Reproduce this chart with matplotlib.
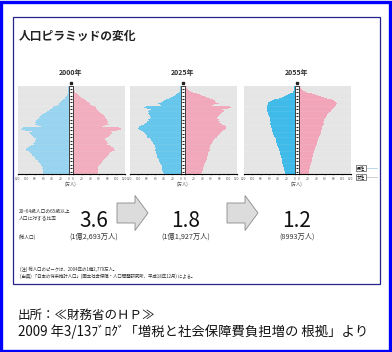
import numpy as np
import matplotlib.pyplot as plt
from matplotlib.patches import Rectangle, FancyArrow

plt.rcParams['font.family'] = ['Noto Sans CJK JP', 'DejaVu Sans']

W, H = 392, 352
ages = np.arange(0, 101)

# population by single year of age (万人)
male_2000 = [60, 61, 61, 61, 60, 61, 62, 61, 62, 64,
             65, 66, 68, 70, 71, 73, 77, 79, 79, 80,
             82, 85, 87, 88, 90, 94, 99, 101, 100, 100,
             96, 92, 88, 86, 82, 84, 79, 80, 78, 76,
             76, 78, 81, 84, 86, 88, 91, 92, 92, 87,
             102, 111, 109, 106, 65, 72, 84, 80, 77, 79,
             77, 76, 75, 72, 70, 69, 68, 65, 62, 58,
             53, 52, 50, 46, 43, 40, 38, 37, 35, 27,
             23, 22, 20, 18, 16, 14, 12, 10, 8, 7,
             5, 4, 3, 3, 2, 1, 1, 1, 1, 1, 1]
female_2000 = [57, 58, 58, 58, 57, 58, 59, 58, 59, 61,
               62, 63, 65, 67, 68, 70, 73, 75, 75, 76,
               78, 81, 83, 84, 86, 90, 95, 97, 96, 96,
               93, 89, 86, 84, 80, 82, 78, 79, 77, 75,
               75, 77, 80, 83, 85, 87, 90, 91, 92, 88,
               103, 112, 111, 108, 67, 75, 87, 83, 80, 82,
               81, 80, 79, 77, 76, 75, 74, 72, 69, 66,
               63, 62, 61, 58, 56, 54, 53, 52, 50, 44,
               40, 39, 36, 33, 31, 28, 25, 22, 19, 16,
               14, 11, 9, 7, 5, 4, 3, 2, 2, 1, 1]
male_2025 = [40, 41, 42, 42, 43, 43, 44, 44, 45, 45,
             46, 47, 48, 49, 50, 51, 52, 53, 54, 55,
             55, 56, 56, 57, 57, 59, 60, 60, 60, 59,
             60, 61, 60, 61, 63, 64, 65, 67, 69, 70,
             72, 76, 78, 78, 79, 81, 84, 86, 87, 89,
             92, 97, 99, 98, 97, 93, 89, 85, 83, 79,
             80, 75, 76, 73, 71, 70, 71, 73, 75, 76,
             75, 77, 77, 75, 70, 80, 85, 81, 77, 46,
             48, 53, 47, 42, 40, 35, 31, 27, 22, 18,
             14, 11, 8, 6, 4, 3, 2, 1, 1, 1, 1]
female_2025 = [38, 39, 40, 40, 41, 41, 42, 42, 43, 43,
               44, 45, 46, 47, 48, 49, 50, 50, 51, 52,
               52, 53, 53, 54, 54, 56, 57, 57, 57, 56,
               57, 58, 58, 59, 61, 62, 63, 65, 66, 67,
               69, 73, 75, 75, 76, 78, 81, 83, 84, 86,
               89, 94, 96, 95, 95, 92, 88, 85, 83, 79,
               81, 77, 78, 76, 74, 74, 76, 79, 82, 84,
               86, 89, 90, 90, 86, 99, 107, 105, 101, 62,
               68, 78, 73, 69, 69, 65, 61, 57, 51, 46,
               40, 34, 28, 23, 18, 14, 10, 7, 5, 3, 4]
male_2055 = [23, 23, 24, 24, 25, 25, 26, 26, 27, 27,
             28, 28, 29, 29, 30, 30, 31, 31, 32, 32,
             33, 33, 34, 34, 35, 35, 36, 36, 37, 37,
             39, 40, 41, 41, 42, 42, 43, 43, 44, 44,
             45, 46, 47, 48, 49, 50, 51, 52, 53, 53,
             53, 54, 54, 55, 55, 56, 57, 57, 57, 56,
             58, 58, 57, 57, 59, 59, 60, 61, 62, 62,
             63, 65, 66, 65, 65, 65, 66, 66, 65, 64,
             62, 63, 62, 58, 54, 48, 42, 36, 31, 26,
             20, 15, 11, 8, 5, 4, 3, 2, 1, 1, 1]
female_2055 = [22, 22, 23, 23, 24, 24, 25, 25, 26, 26,
               27, 27, 28, 28, 29, 29, 30, 30, 31, 31,
               32, 32, 33, 33, 34, 34, 35, 35, 36, 36,
               38, 39, 40, 40, 41, 41, 42, 42, 43, 43,
               44, 45, 46, 47, 48, 49, 50, 50, 51, 52,
               52, 53, 53, 54, 54, 56, 57, 57, 57, 56,
               57, 58, 58, 59, 61, 62, 63, 65, 66, 67,
               69, 73, 75, 75, 76, 78, 81, 83, 84, 85,
               86, 88, 86, 84, 82, 76, 70, 64, 57, 50,
               43, 36, 29, 23, 18, 13, 9, 6, 4, 3, 5]

years = ['2000年', '2025年', '2055年']
ratios = ['3.6', '1.8', '1.2']
totals = ['(1億2,693万人)', '(1億1,927万人)', '(8993万人)']
ticks = [0, 20, 40, 60, 80, 100, 120]

males = [male_2000, male_2025, male_2055]
females = [female_2000, female_2025, female_2055]
male_colors = ['#92d2ef', '#5cc3ea', '#33b6e8']
female_colors = ['#f2a8ba', '#f1a3b7', '#f2a0b5']
centers = [71, 183, 297]
g = 5  # half width of the centre age column


def px_axes(x0, y0, x1, y1):
    return fig.add_axes([x0 / W, 1 - y1 / H, (x1 - x0) / W, (y1 - y0) / H])


fig = plt.figure(figsize=(W / 100, H / 100), dpi=100)

for i in range(3):
    cx = centers[i]
    ax = px_axes(cx - 53.5, 86, cx + 53.5, 174)
    ax.set_xlim(-125, 125)
    ax.set_ylim(-0.5, 101)
    ax.set_facecolor('#e2e2e2')
    # faint row lines on the gray background
    for a in range(0, 101, 2):
        ax.axhline(a + 0.5, color='#efefef', lw=0.3, zorder=1)
    ax.barh(ages, -np.array(males[i]), left=-g, height=1.0,
            color=male_colors[i], lw=0, zorder=2)
    ax.barh(ages, females[i], left=g, height=1.0,
            color=female_colors[i], lw=0, zorder=2)
    for a in range(0, 101, 2):
        ax.plot([-125, 125], [a + 0.5, a + 0.5], color='white', lw=0.2,
                alpha=0.45, zorder=2.5)
    ax.add_patch(Rectangle((-g + 1, -0.5), 2 * g - 2, 101.5, fc='white',
                           ec='#222222', lw=0.6, zorder=3))
    for a in range(2, 100, 4):
        ax.plot([-g + 2, g - 2], [a, a], color='#222222', lw=0.8,
                solid_capstyle='butt', zorder=4)
    ax.plot([0], [105], marker='s', ms=1.8, color='#222222', clip_on=False)
    for s in ['left', 'right', 'top']:
        ax.spines[s].set_visible(False)
    ax.spines['bottom'].set_linewidth(0.8)
    pos = [-g - t for t in ticks[::-1]] + [g + t for t in ticks]
    ax.set_xticks(pos)
    ax.set_xticklabels([str(t) for t in ticks[::-1]] + [str(t) for t in ticks])
    ax.tick_params(axis='x', labelsize=2.3, length=1, width=0.4, pad=0.8,
                   colors='#555555')
    ax.set_yticks([])

ov = fig.add_axes([0, 0, 1, 1])
ov.set_xlim(0, W)
ov.set_ylim(H, 0)
ov.axis('off')
ov.patch.set_alpha(0)

ov.add_patch(Rectangle((1.5, 1.5), W - 3, H - 3, fill=False, ec='#0000ff', lw=2.4))
ov.add_patch(Rectangle((13, 17), 367, 267, fill=False, ec='#24248c', lw=0.9))

ov.text(19, 36, '人口ピラミッドの変化', fontsize=8.5, fontweight='bold',
        va='center', color='#222222')

for i in range(3):
    cx = centers[i]
    ov.text(cx, 72, years[i], ha='center', va='center', fontsize=5,
            fontweight='bold', color='#333333')
    ov.text(cx, 184, '(万人)', ha='center', va='center', fontsize=3.2,
            color='#555555')

# legend boxes
ov.text(361, 168, '男性', ha='center', va='center', fontsize=3,
        bbox=dict(boxstyle='square,pad=0.15', fc='white', ec='#555555', lw=0.5))
ov.text(361, 177, '女性', ha='center', va='center', fontsize=3,
        bbox=dict(boxstyle='square,pad=0.15', fc='white', ec='#555555', lw=0.5))
ov.plot([365, 377], [168, 168], color='#9fc6dc', lw=0.5)
ov.plot([365, 377], [177, 177], color='#bbbbbb', lw=0.5)

ov.text(19, 211, '20~64歳人口の65歳以上', fontsize=3.4, va='center', color='#333333')
ov.text(19, 218, '人口に対する比率', fontsize=3.4, va='center', color='#333333')
ov.text(19, 237, '(総人口)', fontsize=3.4, va='center', color='#333333')

for x0 in [117, 227]:
    ov.add_patch(FancyArrow(x0, 213, 31, 0, width=20, head_width=35,
                            head_length=13, length_includes_head=True,
                            fc='#dcdcdc', ec='#8a8a8a', lw=0.6))

for i in range(3):
    cx = [94, 186, 297][i]
    ov.text(cx, 221, ratios[i], ha='center', va='center', fontsize=15,
            color='#111111')
    ov.text(cx, 237, totals[i], ha='center', va='center', fontsize=5.2,
            color='#333333')

ov.text(20, 269, '(注) 総人口のピークは、2004年の1億2,779万人。', fontsize=3.2,
        va='center', color='#333333')
ov.text(20, 276, '(出典) 「日本の将来推計人口」(国立社会保障・人口問題研究所、平成18年12月) による。',
        fontsize=3.2, va='center', color='#333333')

ov.text(18, 315, '出所：≪財務省のＨＰ≫', fontsize=9, va='center', color='#111111')
ov.text(18, 332, '2009 年3/13ﾌﾞﾛｸﾞ「増税と社会保障費負担増の 根拠」より', fontsize=9.6,
        va='center', color='#111111')

fig.savefig('out.png', dpi=100)
